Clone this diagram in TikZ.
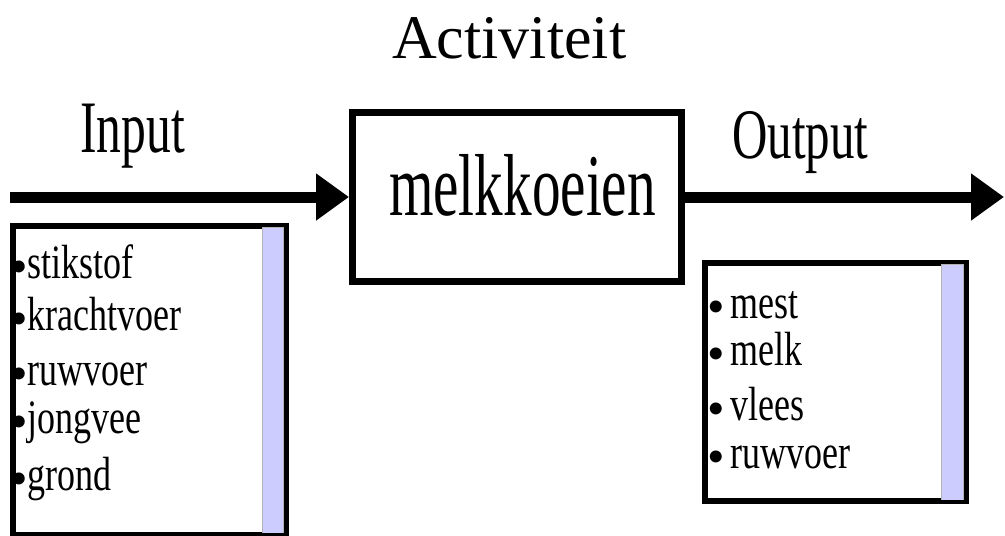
\documentclass[tikz,border=0pt]{standalone}
\usepackage{fontspec}
\setmainfont{Liberation Serif}
\newfontfamily\fIn[FakeStretch=0.67]{Liberation Serif}
\newfontfamily\fOut[FakeStretch=0.69]{Liberation Serif}
\newfontfamily\fMid[FakeStretch=0.65]{Liberation Serif}
\newfontfamily\fList[FakeStretch=0.75]{Liberation Serif}
\usetikzlibrary{arrows.meta}
\definecolor{stripblue}{RGB}{204,204,255}
\newcommand{\bul}{{\fontspec{Liberation Serif}\fontsize{50}{50}\selectfont\raisebox{-5pt}{\textbullet}}}
\tikzset{
  txt/.style={inner sep=0pt, anchor=base west},
  bigtitle/.style={txt, font=\fontsize{62}{70}\selectfont},
  sidelabel/.style={txt},
  listitem/.style={txt, font=\fList\fontsize{48}{52}\selectfont},
  flow/.style={line width=11pt, -{Triangle[length=33pt,width=45pt]}},
  listbox/.style={draw, line width=3.5pt, fill=white},
  strip/.style={fill=stripblue, draw=gray!60, line width=0.6pt},
}
\begin{document}
\begin{tikzpicture}[x=1pt,y=-1pt]
\useasboundingbox (0,0) rectangle (1005,536);
\fill[white] (0,0) rectangle (1005,536);

% title
\node[bigtitle] (act) at (392,58) {Activiteit};
\node[sidelabel, font=\fIn\fontsize{74}{80}\selectfont] (inp) at (80,152) {Input};
\node[sidelabel, font=\fOut\fontsize{71}{80}\selectfont] (outp) at (732,158) {Output};

% activity box
\node[draw, line width=7pt, minimum width=329pt, minimum height=169pt,
      inner sep=0pt, text height=36pt, text depth=0pt,
      font=\fMid\fontsize{88}{90}\selectfont] (act box) at (517,197)
      {\hspace*{11pt}melkkoeien};

% flows
\coordinate (instart) at (10,197);
\coordinate (outend) at (1004,197);
\draw[flow] (instart) -- (act box.west);
\draw[flow] (act box.east) -- (outend);

% input list
\node[listbox, minimum width=271.5pt, minimum height=306.5pt, inner sep=0pt]
  (inlist) at (149.5,380) {};
\draw[strip] (262.3,227) rectangle (283.3,533);
\draw[line width=3.5pt] (inlist.north west) rectangle (inlist.south east);
\node[listitem] (i1) at (10,278) {\bul stikstof};
\node[listitem] (i2) at (10,330) {\bul krachtvoer};
\node[listitem] (i3) at (10,385) {\bul ruwvoer};
\node[listitem] (i4) at (10,433) {\bul jongvee};
\node[listitem] (i5) at (10,490) {\bul grond};

% output list
\node[listbox, minimum width=259pt, minimum height=236pt, inner sep=0pt]
  (outlist) at (835.5,382) {};
\draw[strip] (941,264) rectangle (963,500);
\draw[line width=4pt] (outlist.north west) rectangle (outlist.south east);
\node[listitem] (o1) at (707,318) {\bul\hspace{5.5pt}mest};
\node[listitem] (o2) at (707,365) {\bul\hspace{5.5pt}melk};
\node[listitem] (o3) at (707,420) {\bul\hspace{5.5pt}vlees};
\node[listitem] (o4) at (707,468) {\bul\hspace{5.5pt}ruwvoer};
\end{tikzpicture}
\end{document}
